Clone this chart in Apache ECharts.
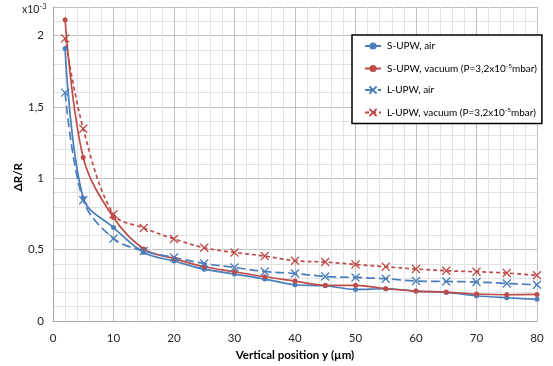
<!DOCTYPE html>
<html><head><meta charset="utf-8">
<script src="https://cdn.jsdelivr.net/npm/echarts@6/dist/echarts.min.js"></script>
<style>html,body{margin:0;padding:0;background:#fff}#c{width:553px;height:366px}</style>
</head><body><div id="c"></div>
<script>
const positions = [2,5,10,15,20,25,30,35,40,45,50,55,60,65,70,75,80];
const sUpwAir = [1.91,0.86,0.655,0.48,0.42,0.363,0.329,0.294,0.254,0.247,0.221,0.226,0.21,0.20,0.177,0.163,0.152];
const sUpwVac = [2.11,1.145,0.725,0.505,0.438,0.38,0.345,0.31,0.28,0.25,0.25,0.226,0.21,0.203,0.189,0.184,0.186];
const lUpwAir = [1.6,0.846,0.578,0.49,0.445,0.403,0.375,0.347,0.333,0.312,0.305,0.296,0.28,0.277,0.273,0.263,0.254];
const lUpwVac = [1.98,1.347,0.748,0.652,0.575,0.513,0.48,0.455,0.422,0.413,0.396,0.38,0.364,0.352,0.345,0.336,0.32];
const seriesNames = ['S-UPW, air','S-UPW, vacuum (P=3,2x10-5mbar)','L-UPW, air','L-UPW, vacuum (P=3,2x10-5mbar)'];
const BLUE = '#4A7EBB', RED = '#BE4B48';
const FONT = 'Lato';

function pts(v){ return positions.map((x,i)=>[x,v[i]]); }
const chart = echarts.init(document.getElementById('c'));
function mk(name, data, color, dash, symbol, size){
  return {name, type:'line', data:pts(data), smooth:0.35, symbol, symbolSize:size,
    showSymbol:true, lineStyle:{color, width:1.7, type:dash},
    itemStyle:{color, borderColor:color, borderWidth: symbol==='circle'?0:1.3}};
}
const xPath = 'path://M0,0L10,10M10,0L0,10';
chart.setOption({
  animation:false,
  textStyle:{fontFamily:FONT},
  grid:{left:53, right:16, top:7, bottom:45},
  xAxis:{type:'value', min:0, max:80, interval:10,
    name:'Vertical position y (µm)', nameLocation:'middle', nameGap:27,
    nameTextStyle:{fontWeight:'bold', fontSize:11.5, color:'#000', fontFamily:FONT},
    axisLine:{lineStyle:{color:'#A6A6A6'}}, axisTick:{show:false},
    axisLabel:{color:'#222', fontSize:11.5, margin:11, fontFamily:FONT},
    splitLine:{lineStyle:{color:'#BFBFBF', width:1}},
    minorTick:{show:false, splitNumber:5},
    minorSplitLine:{show:true, lineStyle:{color:'#E2E2E2', width:1}}},
  yAxis:{type:'value', min:0, max:2.2, interval:0.5,
    axisLine:{show:true, lineStyle:{color:'#A6A6A6'}}, axisTick:{show:false},
    axisLabel:{color:'#222', fontSize:11.5, margin:9, showMaxLabel:false, fontFamily:FONT, formatter:v=>String(v).replace('.',',')},
    splitLine:{lineStyle:{color:'#BFBFBF', width:1}},
    minorTick:{show:false, splitNumber:5},
    minorSplitLine:{show:true, lineStyle:{color:'#E2E2E2', width:1}}},
  legend:{orient:'vertical', left:352, top:35,
    backgroundColor:'#fff', borderColor:'#000', borderWidth:1.5,
    padding:[6,5,6,12], itemGap:11.5, itemWidth:16, itemHeight:9,
    textStyle:{fontSize:10, color:'#000', fontFamily:FONT, padding:[0,0,0,1],
      rich:{sup:{fontSize:6.5, verticalAlign:'top', padding:[0,0,5,0], color:'#000', fontFamily:FONT}}},
    formatter:n=>n.replace('10-5','10{sup|-5}'),
    data:seriesNames},
  graphic:[
    {type:'text', left:22, top:3, style:{rich:{a:{fontSize:10.5, fill:'#222', fontFamily:FONT}, s:{fontSize:7.5, fill:'#222', fontFamily:FONT, padding:[0,0,6,0]}}, text:'{a|x10}{s|-3}'}},
    {type:'text', left:12, top:163, rotation:Math.PI/2, style:{text:'ΔR/R', fontSize:11.5, fontWeight:'bold', fill:'#000', fontFamily:FONT}}
  ],
  series:[
    mk(seriesNames[0], sUpwAir, BLUE, 'solid', 'circle', 5),
    mk(seriesNames[1], sUpwVac, RED, 'solid', 'circle', 5),
    mk(seriesNames[2], lUpwAir, BLUE, [9,4], xPath, 8),
    mk(seriesNames[3], lUpwVac, RED, [4,3], xPath, 8)
  ]
});
</script></body></html>
